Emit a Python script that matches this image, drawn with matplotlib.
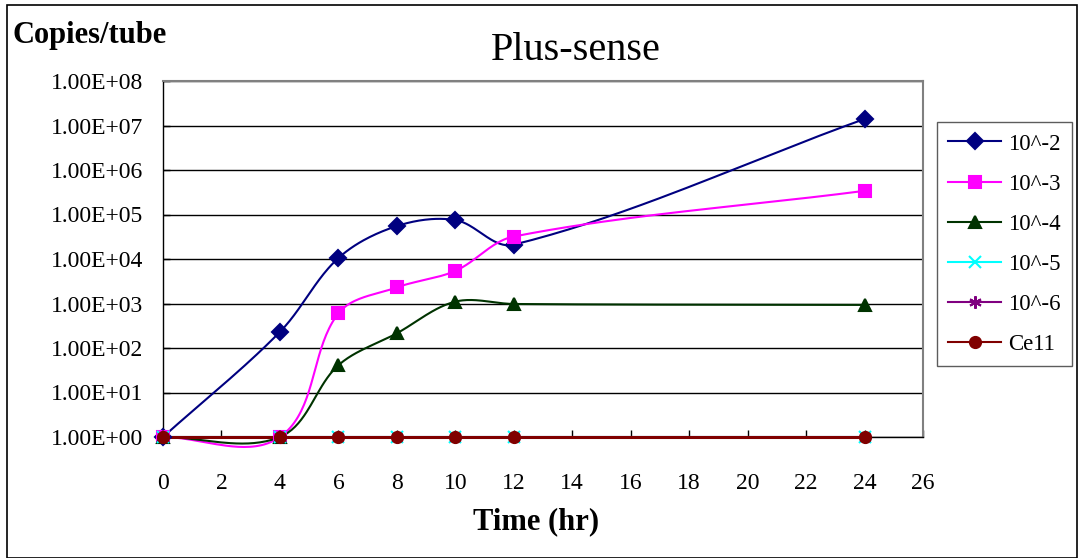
import numpy as np
import matplotlib
matplotlib.use("Agg")
import matplotlib.pyplot as plt
from matplotlib.patches import Rectangle

plt.rcParams['font.family'] = ['Liberation Serif', 'DejaVu Serif']

# hours after infection
hours = [0, 4, 6, 8, 10, 12, 24]

# copies per tube for each dilution
d2 = [1, 230, 1.05e4, 5.5e4, 7.5e4, 2.1e4, 1.4e7]
d3 = [1, 1, 600, 2300, 5400, 3.2e4, 3.4e5]
d4 = [1, 1, 41, 214, 1100, 975, 930]
d5 = [1, 1, 1, 1, 1, 1, 1]
d6 = [1, 1, 1, 1, 1, 1, 1]
cell = [1, 1, 1, 1, 1, 1, 1]

labels = ['10^-2', '10^-3', '10^-4', '10^-5', '10^-6', 'Ce11']
colors = ['#000080', '#FF00FF', '#003300', '#00FFFF', '#800080', '#800000']
markers = ['D', 's', '^', 'x', (6, 2, 0), 'o']
sizes = [8, 8, 9, 8, 9, 8]
series = [d2, d3, d4, d5, d6, cell]


def smooth(x, y, sx=29.2, sy=44.5, n=40):
    # excel-like smoothed line: bezier, tangent from neighbours,
    # control arm = a third of the segment length
    px = np.asarray(x, float) * sx
    py = np.log10(np.asarray(y, float)) * sy
    P = np.column_stack([px, py])
    k = len(P)
    T = np.zeros_like(P)
    for i in range(k):
        d = P[min(i + 1, k - 1)] - P[max(i - 1, 0)]
        T[i] = d / np.hypot(*d)
    out = []
    for i in range(k - 1):
        L = np.hypot(*(P[i + 1] - P[i]))
        c1 = P[i] + T[i] * L / 3
        c2 = P[i + 1] - T[i + 1] * L / 3
        t = np.linspace(0, 1, n)[:, None]
        seg = ((1 - t) ** 3 * P[i] + 3 * (1 - t) ** 2 * t * c1
               + 3 * (1 - t) * t ** 2 * c2 + t ** 3 * P[i + 1])
        out.append(seg if i == 0 else seg[1:])
    out = np.vstack(out)
    return out[:, 0] / sx, 10 ** (out[:, 1] / sy)


fig = plt.figure(figsize=(10.8, 5.58), dpi=100)
ax = fig.add_axes([163 / 1080, 1 - 437 / 558, 760 / 1080, 356 / 558])

for ys, lab, c, m, ms in zip(series, labels, colors, markers, sizes):
    sxs, sys_ = smooth(hours, ys)
    lw = 2.2 if lab == 'Ce11' else 1.5
    ax.plot(sxs, sys_, color=c, lw=lw, clip_on=False, zorder=3)
    ax.plot(hours, ys, ls='none', marker=m, ms=ms, color=c, mec=c,
            mew=1.5, clip_on=False, zorder=4)
    ax.plot([], [], color=c, lw=1.5, marker=m, ms=ms, mew=1.5, label=lab)

ax.set_yscale('log')
ax.set_ylim(1, 1e8)
ax.set_xlim(0, 26)
ax.set_xticks(range(0, 27, 2))
ax.set_yticks([10.0 ** k for k in range(9)])
ax.set_yticklabels(['1.00E+%02d' % k for k in range(9)])
ax.minorticks_off()
ax.tick_params(axis='both', direction='in', length=5, width=1, labelsize=17,
               colors='black')
ax.tick_params(axis='x', pad=26)
ax.tick_params(axis='y', pad=14)
ax.grid(axis='y', color='black', lw=1)
ax.set_axisbelow(True)
for s in ['top', 'right']:
    ax.spines[s].set_color('#808080')
    ax.spines[s].set_linewidth(1.5)
for s in ['left', 'bottom']:
    ax.spines[s].set_color('black')
    ax.spines[s].set_linewidth(1)

fig.text(576 / 1080, 1 - 50 / 558, 'Plus-sense', fontsize=29,
         ha='center', va='center')
fig.text(12 / 1080, 1 - 35 / 558, 'Copies/tube', fontsize=22,
         fontweight='bold', ha='left', va='center')
fig.text(536 / 1080, 1 - 522 / 558, 'Time (hr)', fontsize=22,
         fontweight='bold', ha='center', va='center')

leg = fig.legend(loc='upper left', bbox_to_anchor=(937 / 1080, 1 - 122 / 558),
                 borderaxespad=0, fontsize=16.5, frameon=True, fancybox=False,
                 handlelength=2.3, labelspacing=0.83, borderpad=0.5,
                 handletextpad=0.3)
leg.get_frame().set_edgecolor('#333333')
leg.get_frame().set_linewidth(1)

fig.patches.append(Rectangle((7 / 1080, 0), 1070 / 1080, 1 - 5 / 558,
                             transform=fig.transFigure, fill=False,
                             edgecolor='black', lw=1.2))

fig.savefig('out.png', dpi=100)
